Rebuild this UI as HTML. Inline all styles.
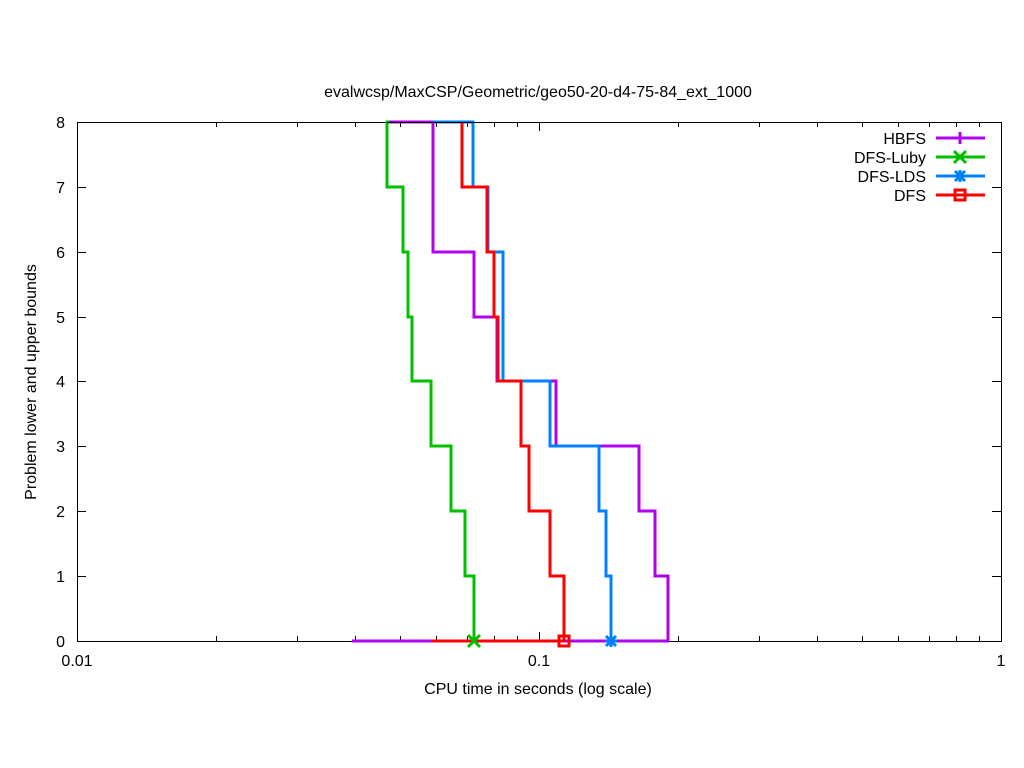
<!DOCTYPE html>
<html><head><meta charset="utf-8"><style>body{margin:0;background:#fff}svg{display:block}text{font-family:"Liberation Sans",sans-serif;font-size:16px;fill:#000}</style></head><body>
<svg width="1024" height="768" xmlns="http://www.w3.org/2000/svg">
<rect width="1024" height="768" fill="#fff"/>
<g stroke="#000" stroke-width="1" fill="none">
<rect x="77.5" y="122.5" width="924" height="519"/>
<path d="M77 122.5h9M1001 122.5h-9M77 187.5h9M1001 187.5h-9M77 252.5h9M1001 252.5h-9M77 317.5h9M1001 317.5h-9M77 381.5h9M1001 381.5h-9M77 446.5h9M1001 446.5h-9M77 511.5h9M1001 511.5h-9M77 576.5h9M1001 576.5h-9M77 641.5h9M1001 641.5h-9"/>
<path d="M77.5 641v-9M77.5 122v9M539.5 641v-9M539.5 122v9M1001.5 641v-9M1001.5 122v9"/>
<path d="M216.5 641v-5M216.5 122v5M297.5 641v-5M297.5 122v5M355.5 641v-5M355.5 122v5M400.5 641v-5M400.5 122v5M436.5 641v-5M436.5 122v5M467.5 641v-5M467.5 122v5M494.5 641v-5M494.5 122v5M517.5 641v-5M517.5 122v5M678.5 641v-5M678.5 122v5M759.5 641v-5M759.5 122v5M817.5 641v-5M817.5 122v5M862.5 641v-5M862.5 122v5M898.5 641v-5M898.5 122v5M929.5 641v-5M929.5 122v5M956.5 641v-5M956.5 122v5M979.5 641v-5M979.5 122v5"/>
</g>
<g text-anchor="end">
<text x="65" y="128">8</text><text x="65" y="193">7</text><text x="65" y="258">6</text><text x="65" y="323">5</text><text x="65" y="387">4</text><text x="65" y="452">3</text><text x="65" y="517">2</text><text x="65" y="582">1</text><text x="65" y="647">0</text>
</g>
<g text-anchor="middle">
<text x="77" y="666">0.01</text><text x="539" y="666">0.1</text><text x="1001" y="666">1</text>
<text x="538" y="694">CPU time in seconds (log scale)</text>
<text x="538" y="97">evalwcsp/MaxCSP/Geometric/geo50-20-d4-75-84_ext_1000</text>
<text transform="translate(36,382) rotate(-90)">Problem lower and upper bounds</text>
</g>
<g fill="none" stroke-width="3">
<path stroke="#00c000" d="M474 641V576H465V511H451V446H431V381H412V317H408V252H403V187H387V122H390"/>
<path stroke="#b000f0" d="M352 641H668V576H655V511H639V446H556V381H497V317H474V252H433V122H389"/>
<path stroke="#0080ff" d="M611 641V576H606V511H599V446H550V381H503V252H488V187H473V122H434"/>
<path stroke="#ff0000" d="M432 641H564V576H550V511H529V446H521V381H498V317H494V252H487V187H462V122"/>
</g>
<path stroke="#000" stroke-width="1" d="M387 122.5H474"/>
<g stroke-width="3" fill="none">
<path stroke="#00c000" d="M468 635l12 12M480 635l-12 12"/>
<path stroke="#0080ff" d="M605 641h12M611 635v12M606 636l10 10M616 636l-10 10"/>
<rect stroke="#ff0000" x="559" y="636" width="10" height="10"/>
</g>
<g text-anchor="end">
<text x="926" y="144">HBFS</text><text x="926" y="163">DFS-Luby</text><text x="926" y="182">DFS-LDS</text><text x="926" y="201">DFS</text>
</g>
<g stroke-width="3" fill="none">
<path stroke="#b000f0" d="M936 138h49M960 132v12"/>
<path stroke="#00c000" d="M936 157h49M954 151l12 12M966 151l-12 12"/>
<path stroke="#0080ff" d="M936 176h49M960 170v12M955 171l10 10M965 171l-10 10"/>
<path stroke="#ff0000" d="M936 195h49"/><rect stroke="#ff0000" x="955" y="190" width="10" height="10" fill="none"/>
</g>
</svg>
</body></html>
